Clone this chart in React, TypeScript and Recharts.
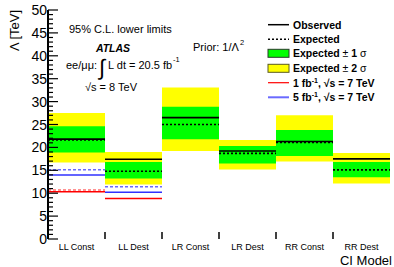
import React from 'react';
import { ComposedChart, Bar, XAxis, YAxis } from 'recharts';

const categories = ['LL Const', 'LL Dest', 'LR Const', 'LR Dest', 'RR Const', 'RR Dest'];
const observed = [21.8, 17.4, 26.5, 19.2, 21.3, 17.5];
const expected = [21.6, 14.8, 25.0, 18.7, 21.1, 15.1];
const sigma1Low = [18.9, 13.2, 21.8, 16.5, 18.1, 13.5];
const sigma1High = [24.6, 16.8, 28.9, 20.3, 23.8, 16.8];
const sigma2Low = [16.7, 11.9, 19.2, 15.2, 16.9, 12.1];
const sigma2High = [27.5, 19.0, 33.1, 21.6, 27.0, 18.8];
const obs1fb7TeV: (number | null)[] = [10.3, 8.85, null, null, null, null];
const exp1fb7TeV: (number | null)[] = [10.7, null, null, null, null, null];
const obs5fb7TeV: (number | null)[] = [14.0, 10.2, null, null, null, null];
const exp5fb7TeV: (number | null)[] = [15.1, 11.4, null, null, null, null];
const allTicks = Array.from({ length: 51 }, (_, i) => i);

const data = categories.map((name, i) => ({
  name,
  obs: observed[i],
  exp: expected[i],
  s1lo: sigma1Low[i],
  s1hi: sigma1High[i],
  s2lo: sigma2Low[i],
  s2hi: sigma2High[i],
  r1: obs1fb7TeV[i],
  r2: exp1fb7TeV[i],
  b1: obs5fb7TeV[i],
  b2: exp5fb7TeV[i],
}));

const W = 394;
const H = 267;
const M = { top: 10, right: 4, bottom: 0, left: 0 };
const YW = 48;
const XH = 28;
const PLOT_BOTTOM = H - M.bottom - XH;
const PLOT_TOP = M.top;
const BAND = (W - YW - M.right) / categories.length;
const FONT = 'Liberation Sans, Arial, Helvetica, sans-serif';

const lineShape = (key: string, color: string, dash: string | undefined, sw: number) => (props: any) => {
  const { x, y, width, payload } = props;
  if (!payload || payload[key] == null) return <g />;
  return <line x1={x} x2={x + width} y1={y} y2={y} stroke={color} strokeWidth={sw} strokeDasharray={dash} />;
};

const LeftTick = (props: any) => {
  const { x, y, payload } = props;
  const axisX = YW;
  const major = payload.value % 5 === 0;
  return (
    <g>
      <line x1={axisX} x2={axisX + (major ? 10 : 5)} y1={y} y2={y} stroke="#000" strokeWidth={1.2} />
      {major && (
        <text x={axisX - 1} y={y + 5} textAnchor="end" fontSize={14} fontFamily={FONT} fill="#000">
          {payload.value}
        </text>
      )}
    </g>
  );
};

const RightTick = (props: any) => {
  const { y, payload } = props;
  const axisX = W - M.right;
  const major = payload.value % 5 === 0;
  return <line x1={axisX} x2={axisX - (major ? 10 : 5)} y1={y} y2={y} stroke="#000" strokeWidth={1.2} />;
};

const BottomTick = (props: any) => {
  const { x, payload, index } = props;
  return (
    <g>
      {index < categories.length - 1 && (
        <line x1={x + BAND / 2} x2={x + BAND / 2} y1={PLOT_BOTTOM} y2={PLOT_BOTTOM - 7} stroke="#000" strokeWidth={1.5} />
      )}
      <text x={x} y={PLOT_BOTTOM + 11} textAnchor="middle" fontSize={9} fontFamily={FONT} fill="#000">
        {payload.value}
      </text>
    </g>
  );
};

const TopTick = (props: any) => {
  const { x, index } = props;
  if (index >= categories.length - 1) return <g />;
  return <line x1={x + BAND / 2} x2={x + BAND / 2} y1={PLOT_TOP} y2={PLOT_TOP + 5} stroke="#000" strokeWidth={1.5} />;
};

const txt = { fontFamily: FONT, fill: '#000' } as const;

export default function App() {
  return (
    <div style={{ position: 'fixed', left: 0, top: 0, width: W, height: H, background: '#fff' }}>
      <ComposedChart width={W} height={H} data={data} margin={M} barCategoryGap={0} barGap={0}>
        <XAxis xAxisId="main" dataKey="name" height={XH} tickSize={0} tickMargin={0} interval={0}
          tick={<BottomTick />} axisLine={{ stroke: '#000', strokeWidth: 2 }} tickLine={false} />
        <XAxis xAxisId="top" dataKey="name" orientation="top" height={0} tickSize={0} tickMargin={0} interval={0}
          tick={<TopTick />} axisLine={{ stroke: '#000', strokeWidth: 1.5 }} tickLine={false} />
        <XAxis xAxisId="h1" dataKey="name" hide />
        <XAxis xAxisId="h2" dataKey="name" hide />
        <XAxis xAxisId="h3" dataKey="name" hide />
        <XAxis xAxisId="h4" dataKey="name" hide />
        <XAxis xAxisId="h5" dataKey="name" hide />
        <XAxis xAxisId="h6" dataKey="name" hide />
        <YAxis yAxisId="l" width={YW} domain={[0, 50]} ticks={allTicks} interval={0} tickSize={0} tickMargin={0}
          tick={<LeftTick />} tickLine={false} axisLine={{ stroke: '#000', strokeWidth: 2 }} allowDataOverflow />
        <YAxis yAxisId="r" orientation="right" width={0} domain={[0, 50]} ticks={allTicks} interval={0} tickSize={0}
          tickMargin={0} tick={<RightTick />} tickLine={false} axisLine={{ stroke: '#000', strokeWidth: 1.5 }} allowDataOverflow />
        <Bar xAxisId="main" yAxisId="l" dataKey={(d: any) => [d.s2lo, d.s2hi]} fill="#ffff00" isAnimationActive={false} />
        <Bar xAxisId="top" yAxisId="l" dataKey={(d: any) => [d.s1lo, d.s1hi]} fill="#00ff00" isAnimationActive={false} />
        <Bar xAxisId="h1" yAxisId="l" dataKey="obs" shape={lineShape('obs', '#000', undefined, 1.6)} isAnimationActive={false} />
        <Bar xAxisId="h2" yAxisId="l" dataKey="exp" shape={lineShape('exp', '#000', '2 2', 1.6)} isAnimationActive={false} />
        <Bar xAxisId="h3" yAxisId="l" dataKey="r1" shape={lineShape('r1', '#ff0000', undefined, 1.5)} isAnimationActive={false} />
        <Bar xAxisId="h4" yAxisId="l" dataKey="r2" shape={lineShape('r2', '#ff7070', '3 2', 1.5)} isAnimationActive={false} />
        <Bar xAxisId="h5" yAxisId="l" dataKey="b1" shape={lineShape('b1', '#3030ff', undefined, 1.5)} isAnimationActive={false} />
        <Bar xAxisId="h6" yAxisId="l" dataKey="b2" shape={lineShape('b2', '#6a6aff', '3 2', 1.5)} isAnimationActive={false} />
      </ComposedChart>
      <svg width={W} height={H} style={{ position: 'absolute', left: 0, top: 0, pointerEvents: 'none' }}>
        <text {...txt} x={14} y={30.5} fontSize={13} textAnchor="middle" dominantBaseline="central"
          transform="rotate(-90, 14, 30.5)">Λ [TeV]</text>
        <text {...txt} x={392} y={265} fontSize={13} textAnchor="end">CI Model</text>

        <text {...txt} x={69} y={33} fontSize={11}>95% C.L. lower limits</text>
        <text {...txt} x={113} y={52} fontSize={10.5} fontWeight="bold" fontStyle="italic" textAnchor="middle">ATLAS</text>
        <text {...txt} x={66} y={69} fontSize={11}>ee/μμ:</text>
        <text {...txt} x={99} y={75} fontSize={22} fontWeight="300">∫</text>
        <text {...txt} x={108} y={69} fontSize={11}>L dt = 20.5 fb</text>
        <text {...txt} x={173} y={62} fontSize={7.5}>-1</text>
        <text {...txt} x={85} y={90.5} fontSize={11}>√s = 8 TeV</text>
        <text {...txt} x={193} y={50.5} fontSize={11}>Prior: 1/Λ</text>
        <text {...txt} x={240} y={45} fontSize={7.5}>2</text>

        <line x1={268} x2={289} y1={24.7} y2={24.7} stroke="#000" strokeWidth={1.5} />
        <line x1={268} x2={289} y1={39.3} y2={39.3} stroke="#000" strokeWidth={1.5} strokeDasharray="2 2" />
        <rect x={268} y={49.3} width={21} height={8} fill="#00ff00" stroke="#2a3a2a" strokeWidth={1} />
        <rect x={268} y={64.3} width={21} height={8} fill="#ffff00" stroke="#5a5a20" strokeWidth={1} />
        <line x1={268} x2={289} y1={82.7} y2={82.7} stroke="#ff0000" strokeWidth={1.2} />
        <line x1={268} x2={289} y1={97.3} y2={97.3} stroke="#6a6aff" strokeWidth={2} />

        <text {...txt} x={293} y={28.5} fontSize={10.5} fontWeight="bold">Observed</text>
        <text {...txt} x={293} y={43} fontSize={10.5} fontWeight="bold">Expected</text>
        <text {...txt} x={293} y={57} fontSize={10.5}>
          <tspan fontWeight="bold">Expected </tspan><tspan>± </tspan><tspan fontWeight="bold">1 </tspan><tspan>σ</tspan>
        </text>
        <text {...txt} x={293} y={72} fontSize={10.5}>
          <tspan fontWeight="bold">Expected </tspan><tspan>± </tspan><tspan fontWeight="bold">2 </tspan><tspan>σ</tspan>
        </text>
        <text {...txt} x={293} y={86.5} fontSize={10.5} fontWeight="bold">
          <tspan>1 fb</tspan><tspan fontSize={7} dy={-4}>-1</tspan><tspan dy={4}>,  √s = 7 TeV</tspan>
        </text>
        <text {...txt} x={293} y={101} fontSize={10.5} fontWeight="bold">
          <tspan>5 fb</tspan><tspan fontSize={7} dy={-4}>-1</tspan><tspan dy={4}>,  √s = 7 TeV</tspan>
        </text>
      </svg>
    </div>
  );
}
